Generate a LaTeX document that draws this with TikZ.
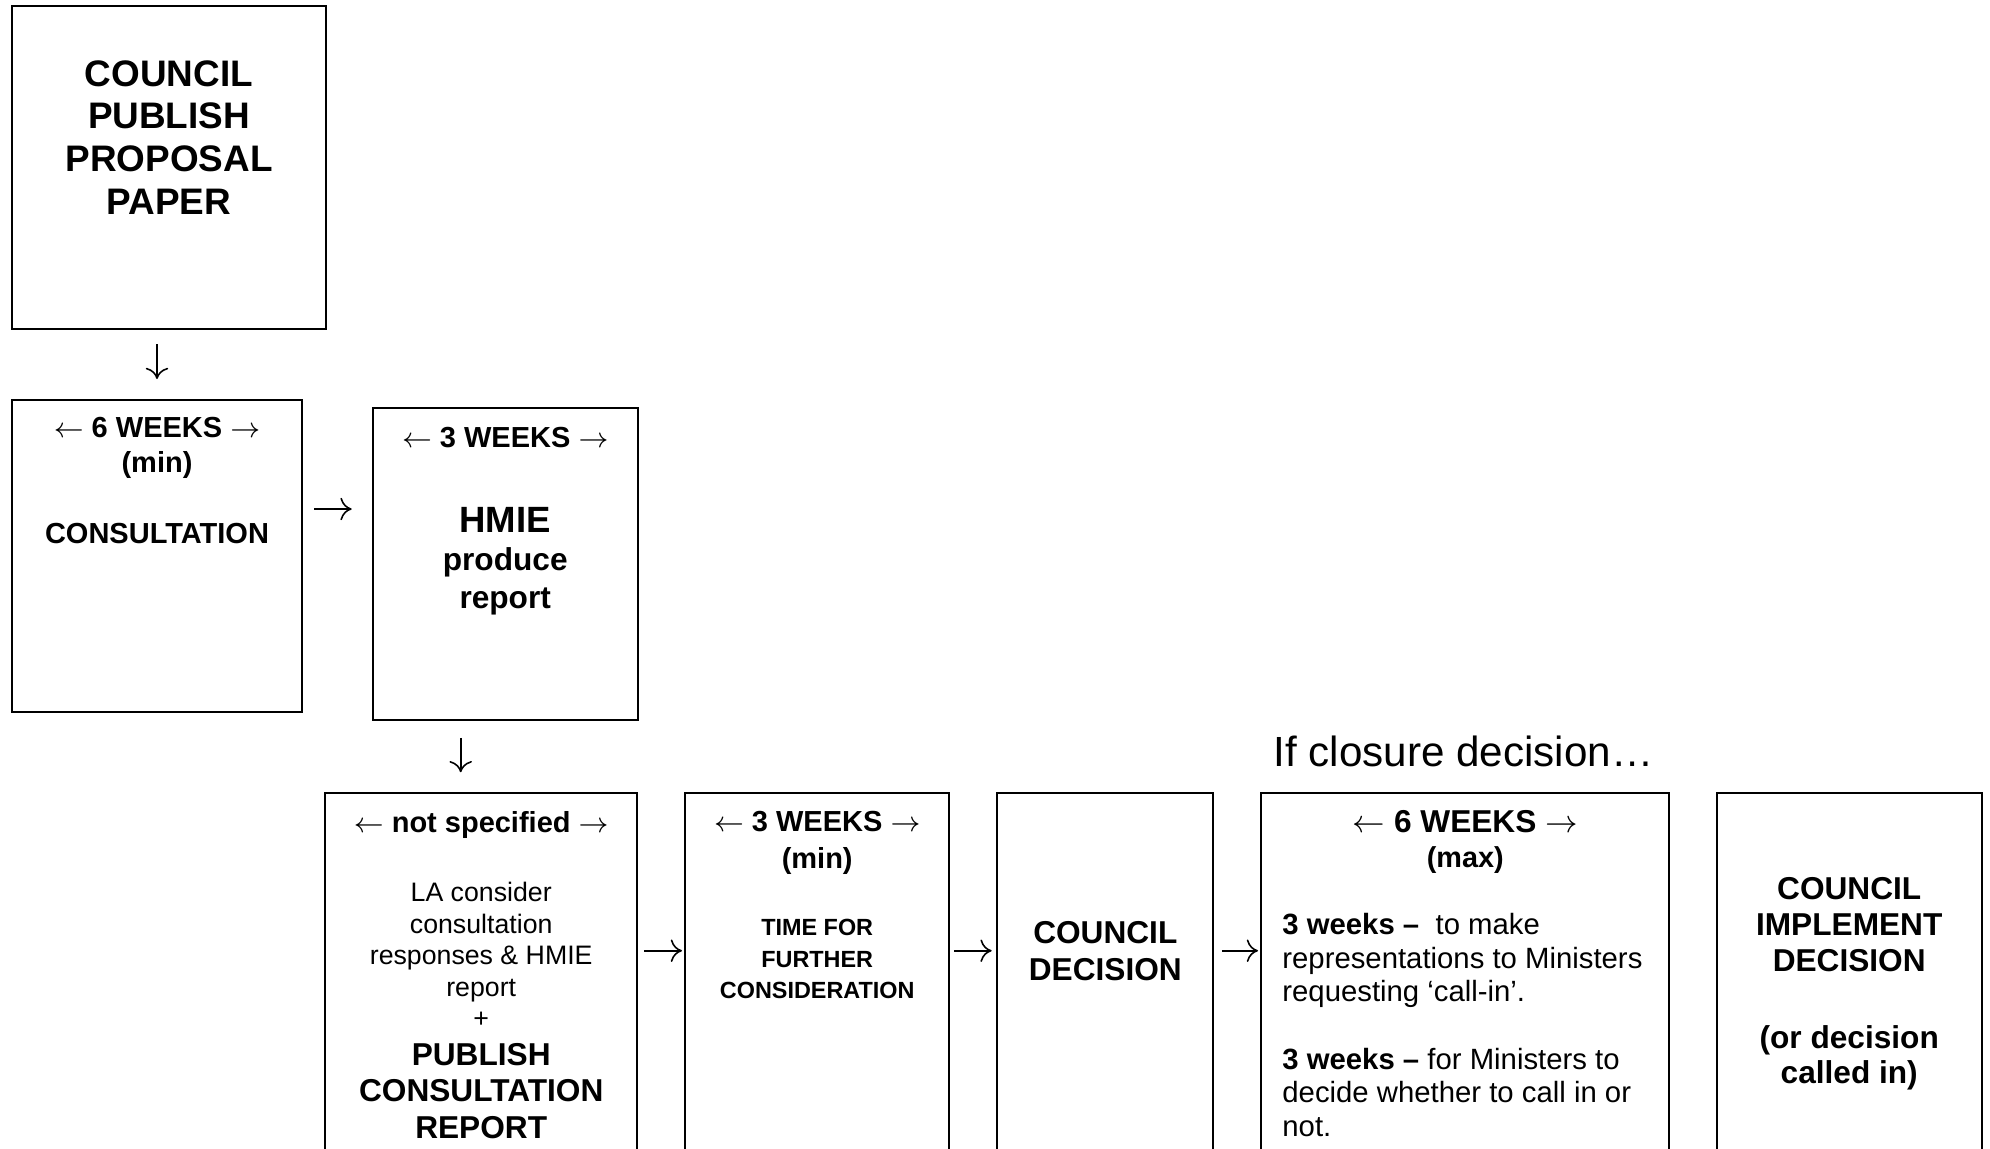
\documentclass[tikz,border=0pt]{standalone}
\usepackage{fontspec}
\setmainfont{Liberation Sans}
\usetikzlibrary{arrows.meta}
\def\fs#1#2{\fontsize{#1}{#2}\selectfont}
\tikzset{
	box/.style={draw, line width=0.6pt, inner sep=0pt},
	txt/.style={inner sep=0pt, align=center},
	arr/.style={line width=0.45pt, -{To[length=3.2pt,width=6.4pt]}},
}

\begin{document}
\begin{tikzpicture}
			%%%%% START %%%%%
			
			\useasboundingbox (0, 0) rectangle (19.9, -11.48);
			\clip (0, 0) rectangle (19.9, -11.48);
			
			\node[box, minimum width=3.134cm, minimum height=3.227cm] (pub) at (1.69, -1.673) {};
			\node[txt, font=\fs{10.5}{12.2}\bfseries] (pubtxt) at (1.69, -1.375) {COUNCIL\\PUBLISH\\PROPOSAL\\PAPER};
			
			\node[box, minimum width=2.894cm, minimum height=3.123cm] (consult) at (1.57, -5.562) {};
			\node[txt, font=\fs{8.25}{10}\bfseries] (consulthead) at (1.57, -4.48) {$\leftarrow$ 6 WEEKS $\rightarrow$\\(min)};
			\node[txt, font=\fs{8.25}{10}\bfseries] (consulttxt) at (1.57, -5.33) {CONSULTATION};
			
			\node[box, minimum width=2.65cm, minimum height=3.117cm] (hmie) at (5.052, -5.642) {};
			\node[txt, font=\fs{8.25}{10}\bfseries] (hmiehead) at (5.052, -4.38) {$\leftarrow$ 3 WEEKS $\rightarrow$};
			\node[txt, font=\fs{10.4}{12}\bfseries] (hmietxt) at (5.052, -5.203) {HMIE};
			\node[txt, font=\fs{9}{10.8}\bfseries] (hmiesub) at (5.052, -5.81) {produce\\report};
			
			\node[box, minimum width=3.123cm, minimum height=4.2cm] (notspec) at (4.812, -10.027) {};
			\node[txt, font=\fs{8.25}{10}\bfseries] (notspechead) at (4.812, -8.245) {$\leftarrow$ not specified $\rightarrow$};
			\node[txt, font=\fs{7.6}{8.96}] (notspectxt) at (4.812, -9.55) {LA consider\\consultation\\responses \& HMIE\\report\\+};
			\node[txt, font=\fs{9}{10.4}\bfseries] (notspecpub) at (4.812, -10.91) {PUBLISH\\CONSULTATION\\REPORT};
			
			\node[box, minimum width=2.643cm, minimum height=4.2cm] (further) at (8.172, -10.027) {};
			\node[txt, font=\fs{8.25}{10.5}\bfseries] (furtherhead) at (8.172, -8.43) {$\leftarrow$ 3 WEEKS $\rightarrow$\\(min)};
			\node[txt, font=\fs{6.66}{8.96}\bfseries] (furthertxt) at (8.172, -9.59) {TIME FOR\\FURTHER\\CONSIDERATION};
			
			\node[box, minimum width=2.16cm, minimum height=4.2cm] (decide) at (11.053, -10.027) {};
			\node[txt, font=\fs{9}{10.6}\bfseries] (decidetxt) at (11.053, -9.513) {COUNCIL\\DECISION};
			
			\node[txt, font=\fs{12}{14}, anchor=west] (closure) at (12.73, -7.517) {If closure decision…};
			
			\node[box, minimum width=4.083cm, minimum height=4.2cm] (callin) at (14.652, -10.027) {};
			\node[txt, font=\fs{9}{10}\bfseries] (callinhead) at (14.652, -8.42) {$\leftarrow$ 6 WEEKS $\rightarrow$\\{\fs{8.2}{10}(max)}};
			\node[txt, align=left, anchor=west, font=\fs{8.34}{9.6}] (callintxt) at (12.817, -10.25) {\textbf{3 weeks –}\ \ to make\\representations to Ministers\\requesting ‘call-in’.\\[9.6pt]\textbf{3 weeks –} for Ministers to\\decide whether to call in or\\not.};
			
			\node[box, minimum width=2.65cm, minimum height=4.2cm] (implement) at (18.492, -10.027) {};
			\node[txt, font=\fs{9}{10.2}\bfseries] (impltxt) at (18.492, -9.84) {COUNCIL\\IMPLEMENT\\DECISION\\[11.6pt](or decision\\called in)};
			
			\draw[arr, shorten <=1.46mm, shorten >=2mm] (pub.south -| consult.north) -- (consult.north);
			\draw[arr, shorten <=1.16mm, shorten >=2mm] ([yshift=4.72mm]consult.east) -- ([yshift=4.72mm]consult.east -| hmie.west);
			\draw[arr, shorten <=1.67mm, shorten >=1.94mm] ([xshift=-4.45mm]hmie.south) -- ([xshift=-4.45mm]hmie.south |- notspec.north);
			
			\draw[arr, shorten <=0.6mm, shorten >=0.2mm] ([yshift=5.2mm]notspec.east) -- ([yshift=5.2mm]further.west);
			\draw[arr, shorten <=0.37mm, shorten >=0.46mm] ([yshift=5.2mm]further.east) -- ([yshift=5.2mm]decide.west);
			\draw[arr, shorten <=0.74mm, shorten >=0.2mm] ([yshift=5.2mm]decide.east) -- ([yshift=5.2mm]callin.west);
			
			%%%%% END %%%%%
\end{tikzpicture}
\end{document}
